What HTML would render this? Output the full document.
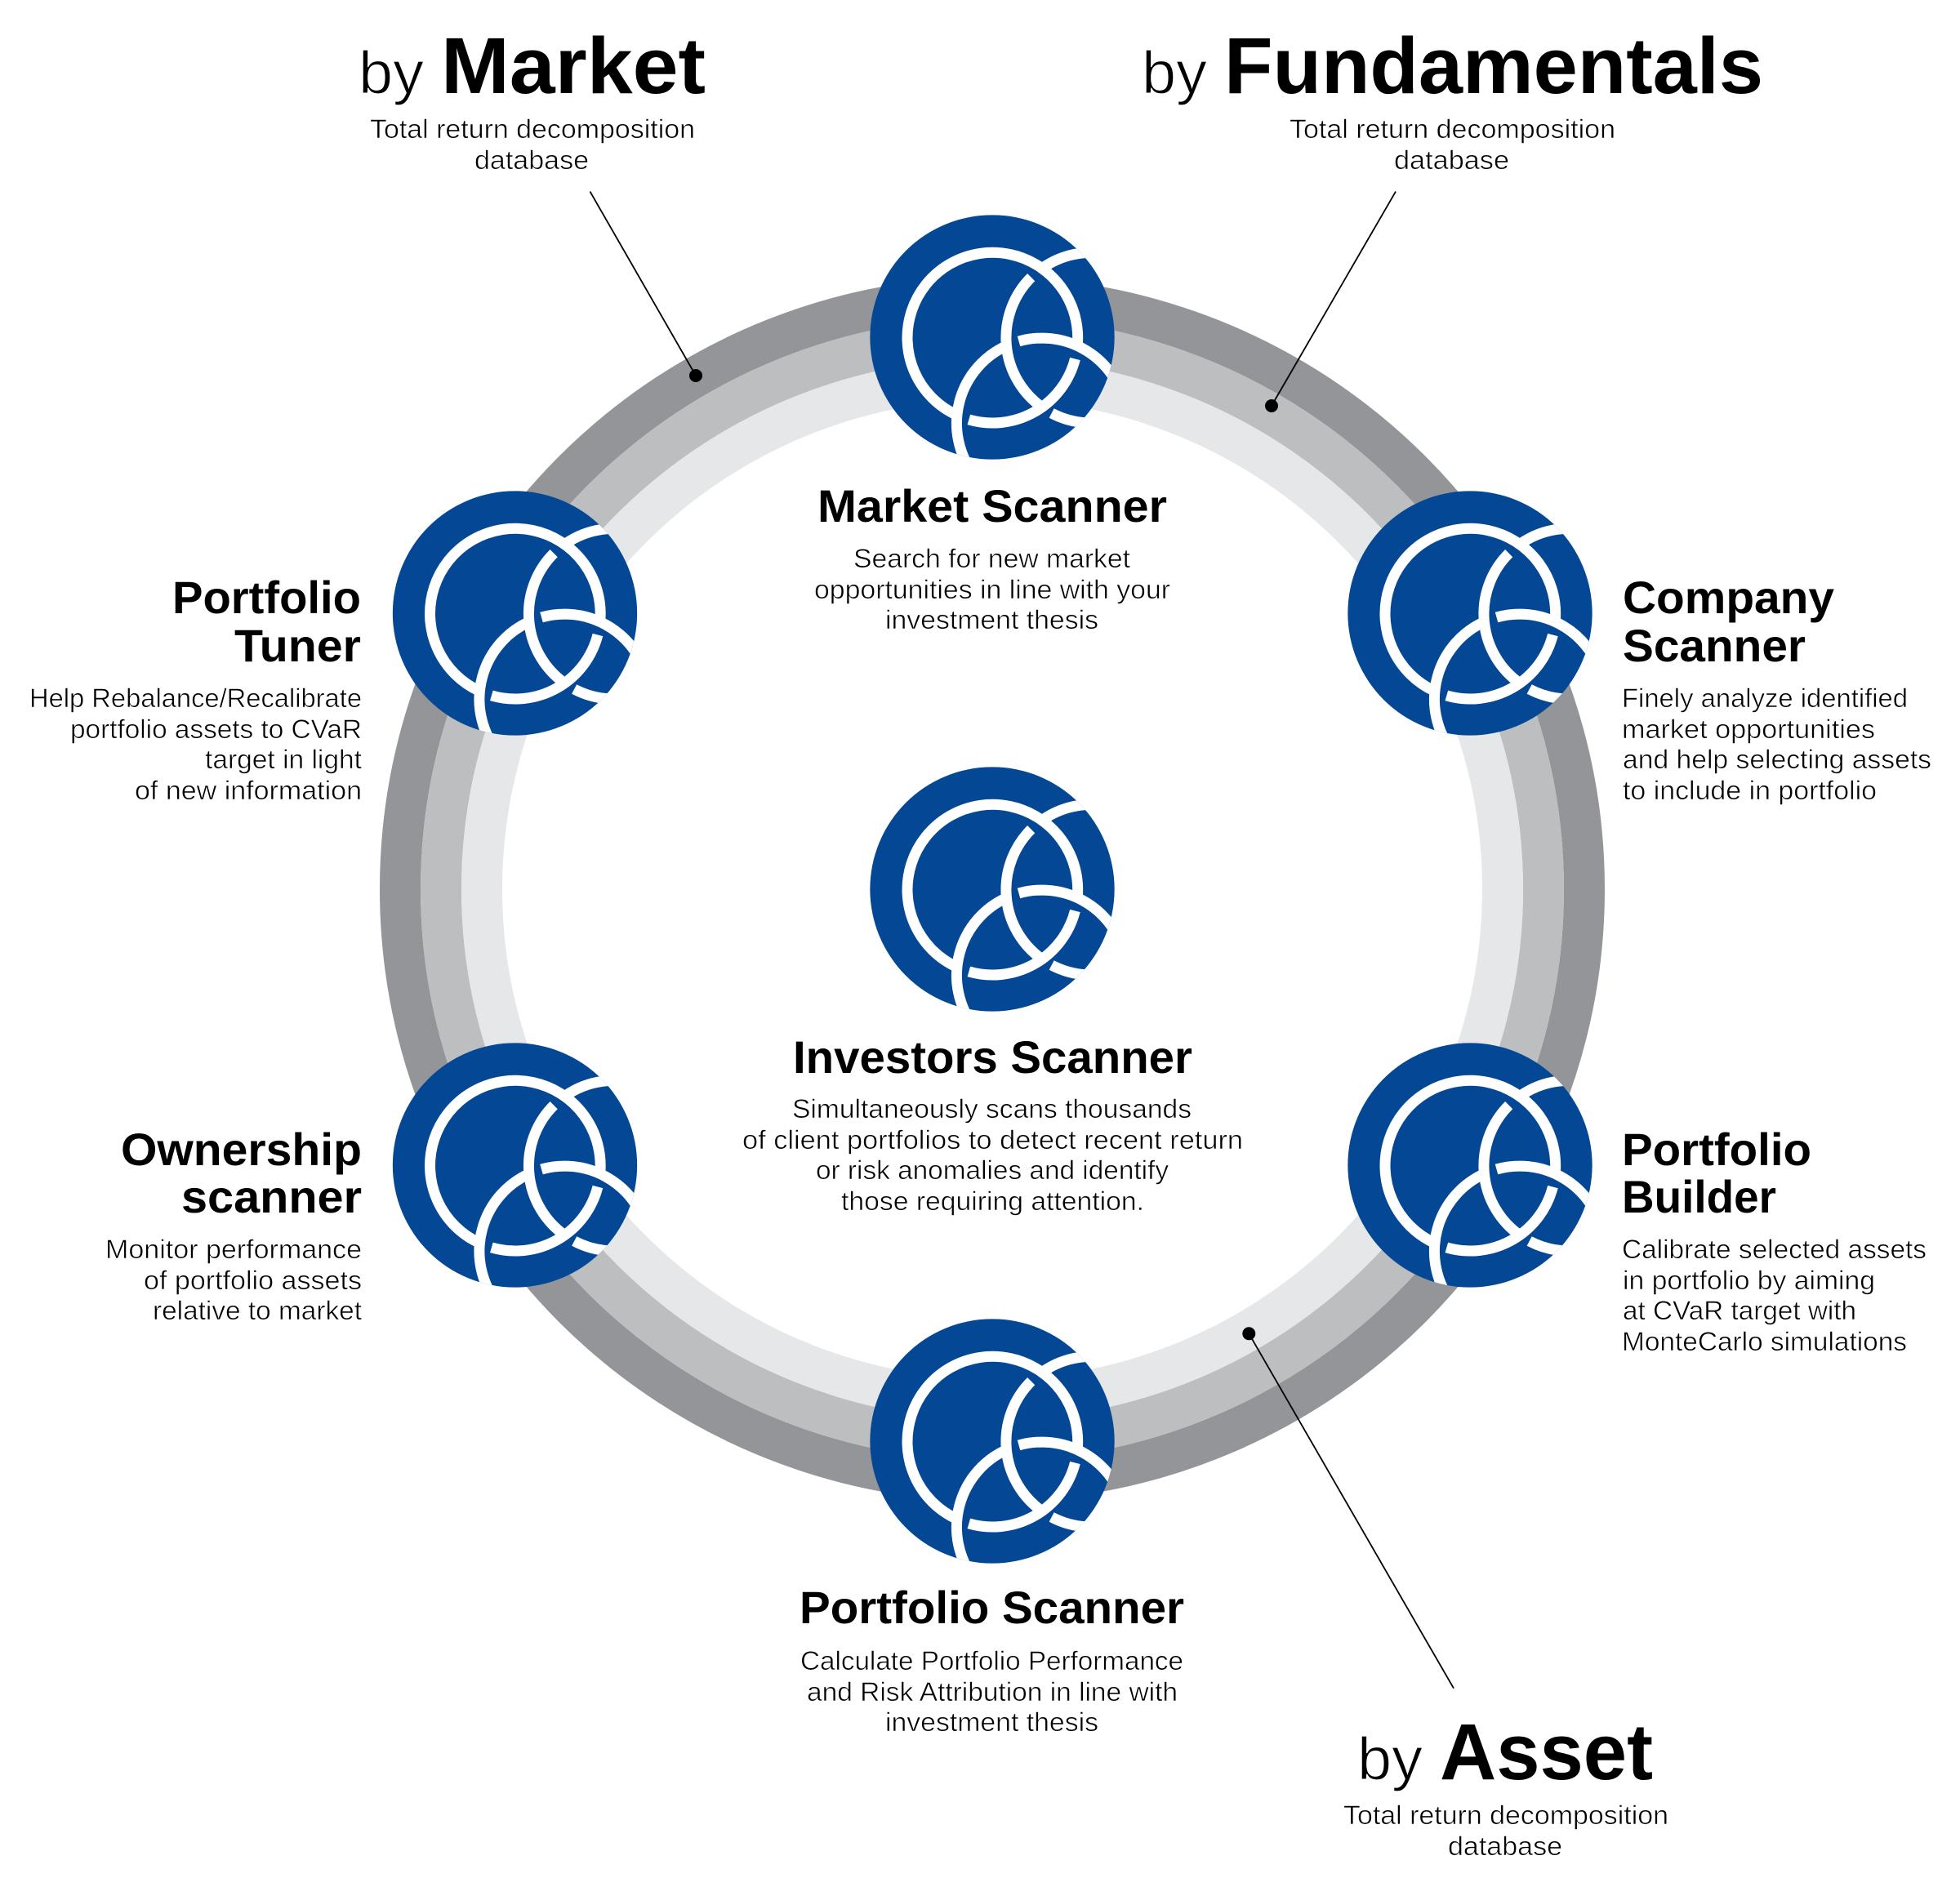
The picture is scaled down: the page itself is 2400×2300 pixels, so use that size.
<!DOCTYPE html>
<html><head><meta charset="utf-8"><style>
html,body{margin:0;padding:0;background:#fff;width:2400px;height:2300px;overflow:hidden}
svg{display:block}
text{font-family:"Liberation Sans",sans-serif;fill:#000}
.t{font-weight:700;font-size:97px}
.y{font-size:73px;stroke:#fff;stroke-width:1.2px}
.h{font-weight:700;font-size:56px}
.b{font-size:32px;fill:#000;stroke:#fff;stroke-width:.6px}
</style></head><body>
<svg width="2400" height="2300" viewBox="0 0 2400 2300" xmlns="http://www.w3.org/2000/svg">
<defs>
<clipPath id="dc"><circle cx="524" cy="520" r="449"/></clipPath>
<g id="ic" transform="scale(.33333) translate(-524,-520)">
<circle cx="524" cy="520" r="449" fill="#044895"/>
<g clip-path="url(#dc)" fill="none" stroke="#fff" stroke-width="39">
<path d="M438 822.7A313 313 0 0 0 828.3 599.6"/>
<path d="M836.6 551.5A313 313 0 1 0 394.9 806.5"/>
<path d="M667 300A313 313 0 0 0 706.5 777"/>
<path d="M742 799A313 313 0 0 0 1000 814.3"/>
<path d="M706.5 267A313 313 0 0 1 1000 229.7"/>
<path d="M621.5 535A313 313 0 0 1 1006.5 747"/>
<path d="M576.4 551.5A313 313 0 0 0 450 1016"/>
</g>
</g>
</defs>

<circle cx="1215" cy="1089" r="725" fill="none" stroke="#939598" stroke-width="50"/>
<circle cx="1215" cy="1089" r="675" fill="none" stroke="#bcbec0" stroke-width="50"/>
<circle cx="1215" cy="1089" r="625" fill="none" stroke="#e6e7e8" stroke-width="50"/>

<g stroke="#000" stroke-width="1.8">
<line x1="722.5" y1="234.6" x2="852" y2="460"/>
<line x1="1709" y1="234.6" x2="1557" y2="497"/>
<line x1="1529.3" y1="1633.3" x2="1780" y2="2067.7"/>
</g>
<circle cx="852" cy="460" r="8"/>
<circle cx="1557" cy="497" r="8"/>
<circle cx="1529.3" cy="1633.3" r="8"/>

<use href="#ic" transform="translate(1215,413)"/>
<use href="#ic" transform="translate(1215,1089)"/>
<use href="#ic" transform="translate(1215,1765)"/>
<use href="#ic" transform="translate(630.5,751)"/>
<use href="#ic" transform="translate(1800,751)"/>
<use href="#ic" transform="translate(630.5,1427)"/>
<use href="#ic" transform="translate(1800,1427)"/>

<g>
<text class="y" x="439" y="114" textLength="80" lengthAdjust="spacingAndGlyphs">by</text>
<text class="t" x="540" y="114" textLength="324" lengthAdjust="spacingAndGlyphs">Market</text>
<text class="b" x="453" y="169" textLength="398" lengthAdjust="spacingAndGlyphs">Total return decomposition</text>
<text class="b" x="581" y="207" textLength="140" lengthAdjust="spacingAndGlyphs">database</text>

<text class="y" x="1398" y="114" textLength="80" lengthAdjust="spacingAndGlyphs">by</text>
<text class="t" x="1499" y="114" textLength="660" lengthAdjust="spacingAndGlyphs">Fundamentals</text>
<text class="b" x="1579" y="169" textLength="399" lengthAdjust="spacingAndGlyphs">Total return decomposition</text>
<text class="b" x="1707" y="207" textLength="141" lengthAdjust="spacingAndGlyphs">database</text>

<text class="y" x="1662" y="2179" textLength="80" lengthAdjust="spacingAndGlyphs">by</text>
<text class="t" x="1763" y="2179" textLength="261" lengthAdjust="spacingAndGlyphs">Asset</text>
<text class="b" x="1645" y="2234" textLength="398" lengthAdjust="spacingAndGlyphs">Total return decomposition</text>
<text class="b" x="1773" y="2272" textLength="140" lengthAdjust="spacingAndGlyphs">database</text>

<text class="h" x="1001" y="639" textLength="428" lengthAdjust="spacingAndGlyphs">Market Scanner</text>
<text class="b" x="1045" y="695" textLength="339" lengthAdjust="spacingAndGlyphs">Search for new market</text>
<text class="b" x="997" y="733" textLength="436" lengthAdjust="spacingAndGlyphs">opportunities in line with your</text>
<text class="b" x="1084" y="770" textLength="261" lengthAdjust="spacingAndGlyphs">investment thesis</text>

<text class="h" x="971" y="1314" textLength="489" lengthAdjust="spacingAndGlyphs">Investors Scanner</text>
<text class="b" x="970" y="1369" textLength="489" lengthAdjust="spacingAndGlyphs">Simultaneously scans thousands</text>
<text class="b" x="909" y="1407" textLength="613" lengthAdjust="spacingAndGlyphs">of client portfolios to detect recent return</text>
<text class="b" x="999" y="1444" textLength="432" lengthAdjust="spacingAndGlyphs">or risk anomalies and identify</text>
<text class="b" x="1030" y="1482" textLength="371" lengthAdjust="spacingAndGlyphs">those requiring attention.</text>

<text class="h" x="979" y="1988" textLength="471" lengthAdjust="spacingAndGlyphs">Portfolio Scanner</text>
<text class="b" x="980" y="2045" textLength="469" lengthAdjust="spacingAndGlyphs">Calculate Portfolio Performance</text>
<text class="b" x="988" y="2083" textLength="454" lengthAdjust="spacingAndGlyphs">and Risk Attribution in line with</text>
<text class="b" x="1084" y="2120" textLength="261" lengthAdjust="spacingAndGlyphs">investment thesis</text>

<text class="h" x="211" y="751" textLength="231" lengthAdjust="spacingAndGlyphs">Portfolio</text>
<text class="h" x="287" y="810" textLength="155" lengthAdjust="spacingAndGlyphs">Tuner</text>
<text class="b" x="36" y="866" textLength="407" lengthAdjust="spacingAndGlyphs">Help Rebalance/Recalibrate</text>
<text class="b" x="86" y="904" textLength="357" lengthAdjust="spacingAndGlyphs">portfolio assets to CVaR</text>
<text class="b" x="251" y="941" textLength="192" lengthAdjust="spacingAndGlyphs">target in light</text>
<text class="b" x="165" y="979" textLength="278" lengthAdjust="spacingAndGlyphs">of new information</text>

<text class="h" x="148" y="1427" textLength="295" lengthAdjust="spacingAndGlyphs">Ownership</text>
<text class="h" x="222" y="1485" textLength="221" lengthAdjust="spacingAndGlyphs">scanner</text>
<text class="b" x="129" y="1541" textLength="314" lengthAdjust="spacingAndGlyphs">Monitor performance</text>
<text class="b" x="176" y="1579" textLength="267" lengthAdjust="spacingAndGlyphs">of portfolio assets</text>
<text class="b" x="187" y="1616" textLength="256" lengthAdjust="spacingAndGlyphs">relative to market</text>

<text class="h" x="1987" y="751" textLength="259" lengthAdjust="spacingAndGlyphs">Company</text>
<text class="h" x="1987" y="810" textLength="224" lengthAdjust="spacingAndGlyphs">Scanner</text>
<text class="b" x="1986" y="866" textLength="350" lengthAdjust="spacingAndGlyphs">Finely analyze identified</text>
<text class="b" x="1986" y="904" textLength="310" lengthAdjust="spacingAndGlyphs">market opportunities</text>
<text class="b" x="1987" y="941" textLength="378" lengthAdjust="spacingAndGlyphs">and help selecting assets</text>
<text class="b" x="1987" y="979" textLength="311" lengthAdjust="spacingAndGlyphs">to include in portfolio</text>

<text class="h" x="1986" y="1427" textLength="232" lengthAdjust="spacingAndGlyphs">Portfolio</text>
<text class="h" x="1986" y="1485" textLength="189" lengthAdjust="spacingAndGlyphs">Builder</text>
<text class="b" x="1986" y="1541" textLength="373" lengthAdjust="spacingAndGlyphs">Calibrate selected assets</text>
<text class="b" x="1987" y="1579" textLength="309" lengthAdjust="spacingAndGlyphs">in portfolio by aiming</text>
<text class="b" x="1987" y="1616" textLength="286" lengthAdjust="spacingAndGlyphs">at CVaR target with</text>
<text class="b" x="1986" y="1654" textLength="349" lengthAdjust="spacingAndGlyphs">MonteCarlo simulations</text>
</g>
</svg>
</body></html>
